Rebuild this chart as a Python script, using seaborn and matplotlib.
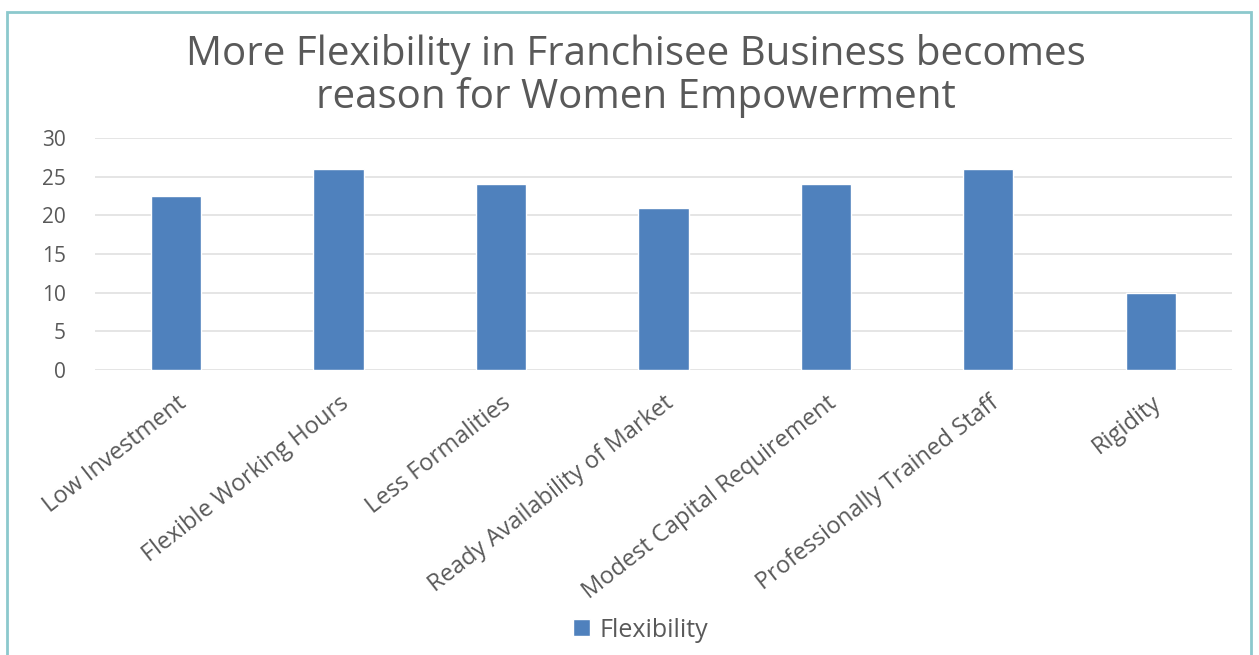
import matplotlib
matplotlib.use("Agg")
import matplotlib.pyplot as plt
import seaborn as sns
import pandas as pd
from matplotlib.patches import Rectangle

categories = [
    "Low Investment",
    "Flexible Working Hours",
    "Less Formalities",
    "Ready Availability of Market",
    "Modest Capital Requirement",
    "Professionally Trained Staff",
    "Rigidity",
]
flexibility = [22.5, 26, 24, 21, 24, 26, 10]
y_ticks = [0, 5, 10, 15, 20, 25, 30]
series_name = "Flexibility"
title = "More Flexibility in Franchisee Business becomes\nreason for Women Empowerment"

df = pd.DataFrame({"category": categories, "value": flexibility, "series": series_name})

sns.set_theme(style="white")
plt.rcParams["font.family"] = ["Open Sans", "DejaVu Sans"]

text_color = "#595959"
bar_color = "#4f81bd"
grid_color = "#e0e0e0"

fig = plt.figure(figsize=(12.59, 6.55), dpi=100)
ax = fig.add_axes([0.0755, 0.435, 0.903, 0.3545])

sns.barplot(data=df, x="category", y="value", hue="series", palette=[bar_color],
            saturation=1, width=0.31, ax=ax, legend=False, zorder=3)

ax.set_ylim(0, 30)
ax.set_yticks(y_ticks)
ax.set_yticklabels([str(t) for t in y_ticks], fontsize=15, color=text_color)
ax.set_xlim(-0.5, len(categories) - 0.5)
ax.yaxis.grid(True, color=grid_color, linewidth=1.2, zorder=0)
ax.set_axisbelow(True)
for s in ax.spines.values():
    s.set_visible(False)
ax.tick_params(axis="both", length=0)
ax.tick_params(axis="y", pad=21)
ax.set_xlabel("")
ax.set_ylabel("")

for lbl in ax.get_xticklabels():
    lbl.set_rotation(38)
    lbl.set_ha("right")
    lbl.set_va("top")
    lbl.set_rotation_mode("anchor")
    lbl.set_fontsize(17)
    lbl.set_color(text_color)
ax.tick_params(axis="x", pad=15)

fig.text(0.505, 0.884, title, ha="center", va="center", fontsize=29,
         color=text_color, linespacing=1.08)

# legend below the category labels
handle = Rectangle((0, 0), 1, 1, facecolor=bar_color)
fig.legend([handle], [series_name], loc="center", bbox_to_anchor=(0.509, 0.038),
           frameon=False, handlelength=0.65, handleheight=0.65, handletextpad=0.4,
           prop={"size": 18}, labelcolor=text_color)

# outer chart frame
fig.patches.append(Rectangle((0.0058, -0.05), 0.9875, 1.0317, transform=fig.transFigure,
                             fill=False, edgecolor="#8cc9cd", linewidth=2, zorder=0))

fig.savefig("out.png", dpi=100, facecolor="white")
